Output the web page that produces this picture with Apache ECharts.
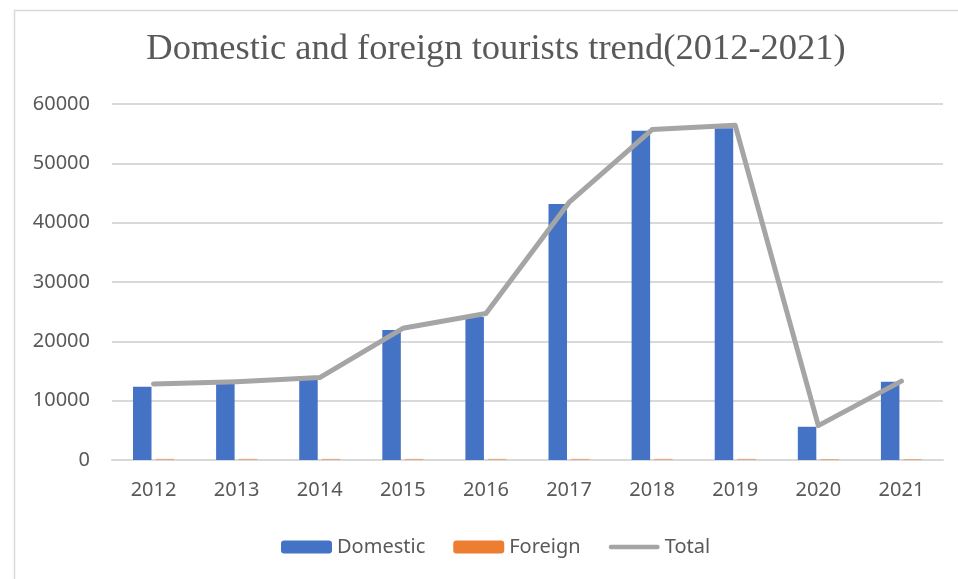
<!DOCTYPE html>
<html>
<head>
<meta charset="utf-8">
<script src="https://cdn.jsdelivr.net/npm/echarts@6/dist/echarts.min.js"></script>
<style>html,body{margin:0;padding:0;background:#fff}#c{width:958px;height:579px}</style>
</head>
<body>
<div id="c"></div>
<script>
const categories = ['2012','2013','2014','2015','2016','2017','2018','2019','2020','2021'];
const domestic = [12350, 12850, 13500, 21900, 24100, 43150, 55500, 55900, 5600, 13200];
const foreign = [200, 200, 200, 200, 200, 200, 200, 200, 170, 170];
const total = [12800, 13200, 13900, 22200, 24700, 43400, 55700, 56400, 5800, 13300];
const yTicks = [0, 10000, 20000, 30000, 40000, 50000, 60000];

const chart = echarts.init(document.getElementById('c'), null, {renderer: 'canvas'});
const labelFont = '"Noto Sans", "Liberation Sans", sans-serif';
chart.setOption({
  backgroundColor: '#fff',
  animation: false,
  graphic: [{
    type: 'rect', left: 12, top: 8, z: -10,
    shape: {width: 980, height: 600},
    style: {fill: 'none', stroke: '#d9d9d9', lineWidth: 1.5}
  }],
  title: {
    text: 'Domestic and foreign tourists trend(2012-2021)',
    left: 491, top: 26, textAlign: 'center',
    textStyle: {fontFamily: '"Liberation Serif", "Times New Roman", serif', fontWeight: 'normal', fontSize: 36.5, color: '#595959'}
  },
  legend: {
    left: 276, top: 532,
    itemWidth: 51, itemHeight: 13, itemGap: 28,
    textStyle: {fontFamily: labelFont, fontSize: 20, color: '#595959'},
    data: [
      'Domestic',
      {name: 'Foreign', itemStyle: {color: '#ED7D31', opacity: 1}},
      {name: 'Total', icon: 'path://M2.5,0 L55.5,0 A2.5,2.5 0 0 1 55.5,5 L2.5,5 A2.5,2.5 0 0 1 2.5,0 Z', itemStyle: {color: '#A5A5A5'}}
    ]
  },
  grid: {left: 112, right: 15, top: 104, bottom: 119, containLabel: false},
  xAxis: {
    type: 'category', data: categories, z: 1,
    axisLine: {lineStyle: {color: '#d9d9d9', width: 2}},
    axisTick: {show: false},
    axisLabel: {fontFamily: labelFont, fontSize: 20, color: '#595959', margin: 20}
  },
  yAxis: {
    type: 'value', min: yTicks[0], max: yTicks[yTicks.length - 1], interval: 10000,
    axisLine: {show: false}, axisTick: {show: false},
    splitLine: {lineStyle: {color: '#d9d9d9', width: 2}},
    axisLabel: {fontFamily: labelFont, fontSize: 20, color: '#595959', margin: 22, formatter: v => String(v)}
  },
  series: [
    {name: 'Domestic', type: 'bar', data: domestic, barWidth: 18.5, barGap: '22%', z: 3, itemStyle: {color: '#4472C4'}},
    {name: 'Foreign', type: 'bar', data: foreign, barWidth: 18.5, barGap: '22%', z: 3, itemStyle: {color: '#ED7D31', opacity: 0.5}},
    {name: 'Total', type: 'line', data: total, symbol: 'none', z: 5,
     lineStyle: {color: '#A5A5A5', width: 5, cap: 'round', join: 'round'}, itemStyle: {color: '#A5A5A5'}}
  ]
});
</script>
</body>
</html>
